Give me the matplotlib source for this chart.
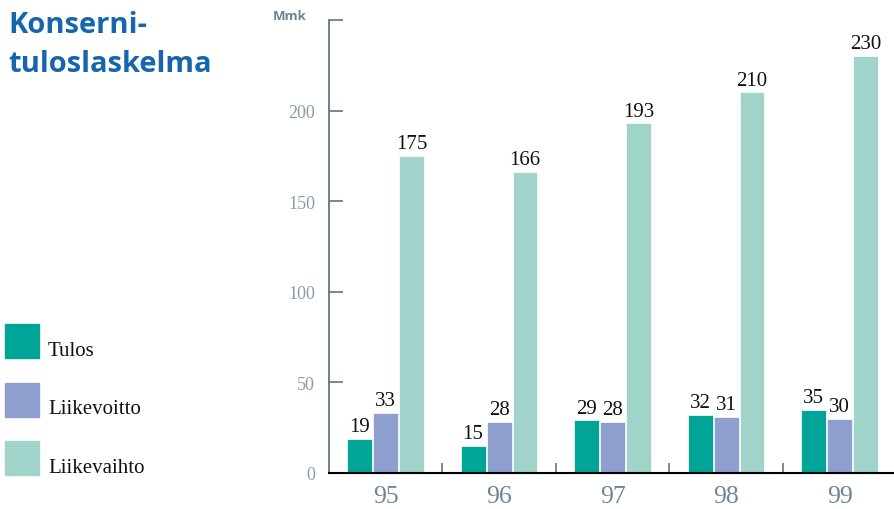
import matplotlib.pyplot as plt
import numpy as np
from matplotlib.patches import Rectangle

years = ["95", "96", "97", "98", "99"]
series = ["Tulos", "Liikevoitto", "Liikevaihto"]
tulos = [19, 15, 29, 32, 35]
liikevoitto = [33, 28, 28, 31, 30]
liikevaihto = [175, 166, 193, 210, 230]
y_ticks = [0, 50, 100, 150, 200, 250]
y_tick_labels = ["0", "50", "100", "150", "200", ""]

colors = ["#00a597", "#8e9ecf", "#a0d4ca"]
slate = "#5f7585"
serif = "Liberation Serif"

W, H = 894, 510
fig = plt.figure(figsize=(W / 100, H / 100), dpi=100)

# axes placed in pixel terms: spine at x=329, baseline at y=474, top at y=21
ax = fig.add_axes([329 / W, 36 / H, 1 - 329 / W, (474 - 21) / H])

x = np.arange(len(years))
w = 0.22
step = 0.229
values = [tulos, liikevoitto, liikevaihto]
for k, (vals, col, name) in enumerate(zip(values, colors, series)):
    bars = ax.bar(x + (k - 1) * step, vals, w, color=col, edgecolor="white",
                  linewidth=0.5, label=name, zorder=2)
    ax.bar_label(bars, padding=2, fontsize=15, family=serif, color="#111111")

ax.set_xlim(-0.498, 4.48)
ax.set_ylim(0, 250)
ax.set_yticks(y_ticks)
ax.set_yticklabels(y_tick_labels, family=serif, fontsize=13, color="#8a9bab")
ax.tick_params(axis="y", direction="in", length=10, width=1.2, color=slate, pad=10)

ax.set_xticks(x)
ax.set_xticklabels(years, family=serif, fontsize=18.5, color="#6f8595")
ax.tick_params(axis="x", which="major", length=0, pad=9)
ax.set_xticks(x[:-1] + 0.5, minor=True)
ax.tick_params(axis="x", which="minor", direction="in", length=7, width=1.2, color=slate)

for side in ["top", "right"]:
    ax.spines[side].set_visible(False)
ax.spines["left"].set_color(slate)
ax.spines["left"].set_linewidth(1.3)
ax.spines["bottom"].set_color("black")
ax.spines["bottom"].set_linewidth(1.5)
ax.spines["bottom"].set_zorder(3)

fig.text(273 / W, 1 - 16 / H, "Mmk", family="Open Sans", fontweight="bold",
         fontsize=9.5, color="#6d8191", va="center")

for line, base in zip(["Konserni-", "tuloslaskelma"], [33, 72]):
    fig.text(8 / W, 1 - base / H, line, family="Open Sans", fontweight="bold",
             fontsize=21, color="#1666ae", va="baseline")

# legend drawn by hand on the left
for i, (name, col) in enumerate(zip(series, colors)):
    top = 325 + 58.5 * i
    fig.add_artist(Rectangle((5 / W, 1 - (top + 34) / H), 34 / W, 34 / H,
                             transform=fig.transFigure, color=col))
    fig.text(48 / W, 1 - (top + 31) / H, name, family=serif, fontsize=15,
             color="#111111", va="baseline")

fig.savefig("out.png", dpi=100)
